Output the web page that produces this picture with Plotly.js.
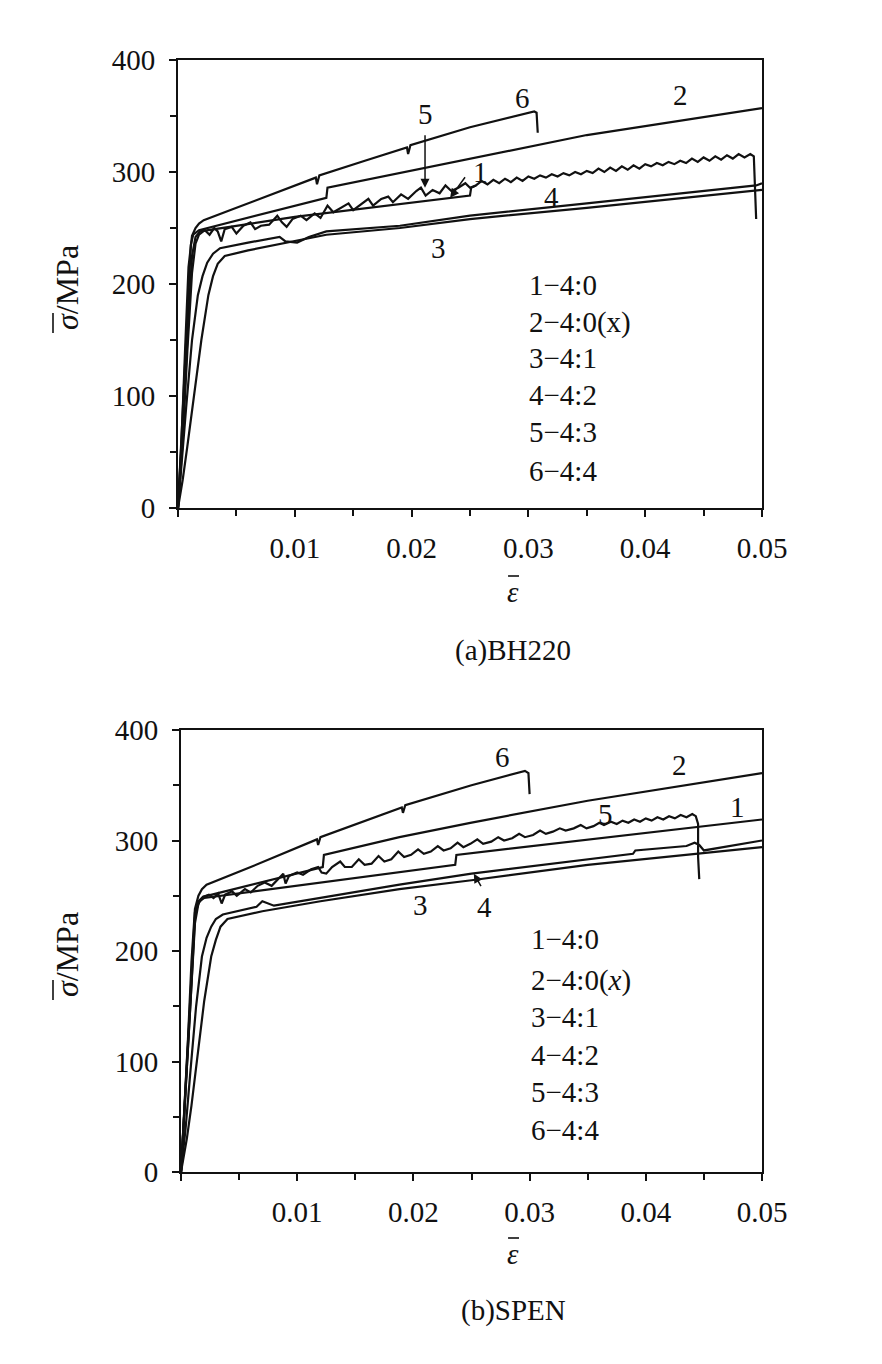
<!DOCTYPE html>
<html><head><meta charset="utf-8">
<script src="https://cdn.plot.ly/plotly-3.0.1.min.js"></script>
<style>html,body{margin:0;padding:0;background:#fff}</style>
</head><body><div id="chart" style="width:882px;height:1364px"></div>
<script>
// ---------- (a) BH220 ----------
const epsA1 = [0,0.0003,0.0006,0.0009,0.0012,0.0015,0.0019,0.0100,0.0250,0.0251,0.0255];
const sigA1 = [0,50,110,170,225,242,247,260,279,286,288];

const epsA2 = [0,0.0004,0.0008,0.0011,0.0013,0.0018,0.0127,0.0128,0.0190,0.0250,0.0350,0.0500];
const sigA2 = [0,80,170,235,244,248,277,286,299,312,333,357];

const epsA3 = [0,0.0004,0.0008,0.0013,0.0020,0.0026,0.0030,0.0034,0.0040,0.0060,0.0090,0.0127,0.0190,0.0250,0.0350,0.0450,0.0500];
const sigA3 = [0,25,55,95,150,190,207,218,225,230,236,244,250,258,268,279,284];

const epsA4 = [0,0.0003,0.0007,0.0012,0.0017,0.0021,0.0025,0.0030,0.0036,0.0060,0.0087,0.0092,0.0102,0.0112,0.0127,0.0190,0.0250,0.0350,0.0450,0.0495,0.0500];
const sigA4 = [0,40,90,150,190,207,219,227,232,237,242,238,237,242,247,252,261,272,283,288,290];

const epsA5 = [0,0.0004,0.0008,0.0012,0.0015,0.0018,0.0023,0.0027,0.0031,0.0034,0.0037,0.0040,0.0046,0.0050,0.0056,0.0062,0.0066,0.0071,0.0078,0.0085,0.0089,0.0093,0.0098,0.0105,0.0110,0.0117,0.0122,0.0128,0.0133,0.0140,0.0146,0.0150,0.0157,0.0163,0.0167,0.0174,0.0180,0.0184,0.0191,0.0197,0.0204,0.0208,0.0212,0.0218,0.0224,0.0229,0.0234,0.0240,0.0246,0.0250,0.0255,
  0.0260,0.0265,0.0270,0.0275,0.0280,0.0285,0.0290,0.0295,0.0300,0.0305,0.0310,0.0315,0.0320,0.0325,0.0330,0.0335,0.0340,0.0345,0.0350,0.0355,0.0360,0.0365,0.0370,0.0375,0.0380,0.0385,0.0390,0.0395,0.0400,0.0405,0.0410,0.0415,0.0420,0.0425,0.0430,0.0435,0.0440,0.0445,0.0450,0.0455,0.0460,0.0465,0.0470,0.0475,0.0480,0.0485,0.0490,0.0493,0.0494,0.0495];
const sigA5 = [0,60,140,210,236,244,248,244,250,247,238,249,251,245,252,255,249,252,253,261,255,251,258,261,257,263,259,270,264,268,272,266,271,276,270,276,278,273,280,276,283,286,279,284,281,288,283,286,290,286,288,
  292,289,293,290,294,291,295,292,296,294,297,295,298,296,299,297,300,298,301,299,303,300,304,301,305,302,306,303,307,305,308,306,309,307,310,308,312,309,313,310,314,311,315,312,316,313,316,314,290,258];

const epsA6 = [0,0.0003,0.0006,0.0009,0.0012,0.0015,0.0018,0.0022,0.0045,0.0080,0.0118,0.0119,0.0121,0.0160,0.0196,0.0197,0.0199,0.0250,0.0305,0.0307,0.0308];
const sigA6 = [0,60,140,215,243,250,254,257,266,280,295,289,297,310,322,316,324,340,354,353,335];

// ---------- (b) SPEN ----------
const epsB1 = [0,0.0004,0.0008,0.0012,0.0016,0.0020,0.0236,0.0237,0.0500];
const sigB1 = [0,80,160,235,245,248,278,287,319];

const epsB2 = [0,0.0004,0.0008,0.0012,0.0015,0.0019,0.0122,0.0123,0.0188,0.0249,0.0350,0.0500];
const sigB2 = [0,70,150,230,245,249,276,287,303,316,336,361];

const epsB3 = [0,0.0005,0.0009,0.0014,0.0020,0.0026,0.0030,0.0034,0.0040,0.0070,0.0120,0.0188,0.0250,0.0350,0.0500];
const sigB3 = [0,30,60,105,155,195,210,222,229,236,245,256,264,278,294];

const epsB4 = [0,0.0004,0.0008,0.0013,0.0018,0.0022,0.0026,0.0030,0.0036,0.0065,0.0070,0.0080,0.0120,0.0188,0.0250,0.0389,0.0391,0.0435,0.0442,0.0446,0.0450,0.0500];
const sigB4 = [0,40,90,150,195,212,222,229,233,240,245,241,248,260,270,288,291,295,298,296,291,300];

const epsB5 = [0,0.0004,0.0008,0.0012,0.0015,0.0019,0.0024,0.0028,0.0032,0.0035,0.0038,0.0044,0.0048,0.0055,0.0060,0.0066,0.0072,0.0078,0.0084,0.0088,0.0090,0.0093,0.0100,0.0105,0.0112,0.0118,0.0121,0.0125,0.0130,0.0137,0.0141,0.0147,0.0153,0.0158,0.0164,0.0170,0.0175,0.0181,0.0187,0.0192,0.0198,0.0204,0.0209,0.0215,0.0221,0.0226,0.0232,0.0238,0.0243,0.0249,0.0255,0.0260,0.0267,0.0273,0.0278,0.0285,0.0291,0.0296,0.0303,0.0309,0.0314,0.0320,0.0326,0.0331,0.0338,0.0344,0.0349,0.0355,0.0360,0.0364,0.0370,0.0375,0.0380,0.0385,0.0390,0.0395,0.0400,0.0405,0.0410,0.0415,0.0420,0.0425,0.0430,0.0435,0.0440,0.0443,0.0445,0.0445,0.0446];
const sigB5 = [0,70,150,225,243,249,251,248,252,243,251,254,250,256,253,259,262,259,266,270,261,268,271,269,274,276,271,270,276,281,276,276,283,278,279,286,281,283,290,285,287,292,288,290,295,291,293,298,294,297,301,297,299,303,300,302,306,303,305,309,306,308,311,309,311,314,311,313,316,314,317,315,318,316,319,317,320,318,321,319,322,320,323,321,324,322,315,285,265];

const epsB6 = [0,0.0003,0.0006,0.0009,0.0012,0.0015,0.0018,0.0022,0.0060,0.0117,0.0118,0.0120,0.0190,0.0191,0.0193,0.0250,0.0296,0.0299,0.0300];
const sigB6 = [0,55,120,190,238,250,256,260,276,301,296,303,330,325,332,350,363,361,342];

// ---------- text ----------
const xTickVals = [0,0.01,0.02,0.03,0.04,0.05];
const xTickText = ['','0.01','0.02','0.03','0.04','0.05'];
const legendLines = ['1\u22124:0','2\u22124:0(x)','3\u22124:1','4\u22124:2','5\u22124:3','6\u22124:4'];
const legendLinesB = ['1\u22124:0','2\u22124:0(<i>x</i>)','3\u22124:1','4\u22124:2','5\u22124:3','6\u22124:4'];
const curveNames = ['1','2','3','4','5','6'];
const panelTitles = ['(a)BH220','(b)SPEN'];
const yTitle = '<i>\u03c3</i>/MPa';
const xTitle = '<i>\u03b5</i>';

// ---------- build ----------
const W = 882, H = 1364;
const FONT = 'Liberation Serif';
const FS = 29;
const lineStyle = {color:'#111', width:2.2};
const setsA = [[epsA1,sigA1],[epsA2,sigA2],[epsA3,sigA3],[epsA4,sigA4],[epsA5,sigA5],[epsA6,sigA6]];
const setsB = [[epsB1,sigB1],[epsB2,sigB2],[epsB3,sigB3],[epsB4,sigB4],[epsB5,sigB5],[epsB6,sigB6]];
const traces = [];
setsA.forEach((s,i)=>traces.push({x:s[0],y:s[1],xaxis:'x',yaxis:'y',mode:'lines',line:lineStyle,name:curveNames[i],showlegend:false,hoverinfo:'skip'}));
setsB.forEach((s,i)=>traces.push({x:s[0],y:s[1],xaxis:'x2',yaxis:'y2',mode:'lines',line:lineStyle,name:curveNames[i],showlegend:false,hoverinfo:'skip'}));

function xa(d0,d1,anchor){
  return {domain:[d0/W,d1/W],anchor:anchor,range:[0,0.05],tickmode:'array',tickvals:xTickVals,ticktext:xTickText,
    ticks:'outside',ticklen:7,tickwidth:2,tickcolor:'#111',showline:true,linewidth:2,linecolor:'#111',mirror:true,
    showgrid:false,zeroline:false,tickfont:{family:FONT,size:FS,color:'#111'},ticklabelstandoff:6,
    minor:{tickmode:'linear',tick0:0,dtick:0.005,ticks:'outside',ticklen:6,tickwidth:2,tickcolor:'#111',showgrid:false}};
}
function ya(top,bot,anchor){
  return {domain:[1-bot/H,1-top/H],anchor:anchor,range:[0,400],tickmode:'linear',tick0:0,dtick:100,
    ticks:'outside',ticklen:7,tickwidth:2,tickcolor:'#111',showline:true,linewidth:2,linecolor:'#111',mirror:true,
    showgrid:false,zeroline:false,tickfont:{family:FONT,size:FS,color:'#111'},ticklabelstandoff:8,
    minor:{tickmode:'linear',tick0:0,dtick:50,ticks:'outside',ticklen:6,tickwidth:2,tickcolor:'#111',showgrid:false}};
}

const ann = [];
const shapes = [];
function pt(text,px,py,extra){
  ann.push(Object.assign({text:text,xref:'paper',yref:'paper',x:px/W,y:1-py/H,xanchor:'center',yanchor:'middle',showarrow:false,
    font:{family:FONT,size:FS,color:'#111'}},extra||{}));
}
function bar(x0,y0,x1,y1){
  shapes.push({type:'line',xref:'paper',yref:'paper',x0:x0/W,y0:1-y0/H,x1:x1/W,y1:1-y1/H,line:{color:'#111',width:1.6}});
}
function dl(text,xr,yr,x,y){
  ann.push({text:text,xref:xr,yref:yr,x:x,y:y,xanchor:'center',yanchor:'middle',showarrow:false,font:{family:FONT,size:FS,color:'#111'}});
}
function arrow(xr,yr,x,y,ax,ay){
  ann.push({text:'',xref:xr,yref:yr,x:x,y:y,ax:ax,ay:ay,showarrow:true,arrowhead:2,arrowsize:1.2,arrowwidth:1.5,arrowcolor:'#111'});
}
// legends
legendLines.forEach((t,i)=>pt(t,527,[285,322,358,395,432,471][i],{xanchor:'left'}));
legendLinesB.forEach((t,i)=>pt(t,529,[939,980,1017,1055,1092,1130][i],{xanchor:'left'}));
// axis titles
const yTitleFont = {family:FONT,size:32,color:'#111'};
pt(yTitle,67,288,{textangle:-90,font:yTitleFont});
bar(53,313,53,333);
pt(yTitle,67,955,{textangle:-90,font:yTitleFont});
bar(53,980,53,1000);
pt(xTitle,513,592);
bar(508,576,519,576);
pt(xTitle,513,1254);
bar(508,1238,519,1238);
pt(panelTitles[0],513,650);
pt(panelTitles[1],513,1310);
// curve labels (a)
dl(curveNames[4],'x','y',0.02115,352);
dl(curveNames[5],'x','y',0.0295,366);
dl(curveNames[1],'x','y',0.0430,369);
dl(curveNames[0],'x','y',0.0259,300);
dl(curveNames[3],'x','y',0.0320,278);
dl(curveNames[2],'x','y',0.0223,232);
arrow('x','y',0.02115,286,0,-54);
arrow('x','y',0.0233,277,16,-22);
// curve labels (b)
dl(curveNames[5],'x2','y2',0.0277,376);
dl(curveNames[1],'x2','y2',0.0429,368);
dl(curveNames[4],'x2','y2',0.0365,324);
dl(curveNames[0],'x2','y2',0.0479,330);
dl(curveNames[2],'x2','y2',0.0206,242);
dl(curveNames[3],'x2','y2',0.0261,240);
arrow('x2','y2',0.0252,270,8,14);

const layout = {width:W,height:H,margin:{l:0,r:0,t:0,b:0},paper_bgcolor:'#fff',plot_bgcolor:'#fff',showlegend:false,
  xaxis:xa(178,762,'y'),yaxis:ya(60,508,'x'),xaxis2:xa(181,762,'y2'),yaxis2:ya(730,1172,'x2'),annotations:ann,shapes:shapes};
Plotly.newPlot('chart',traces,layout,{staticPlot:true});
</script></body></html>
